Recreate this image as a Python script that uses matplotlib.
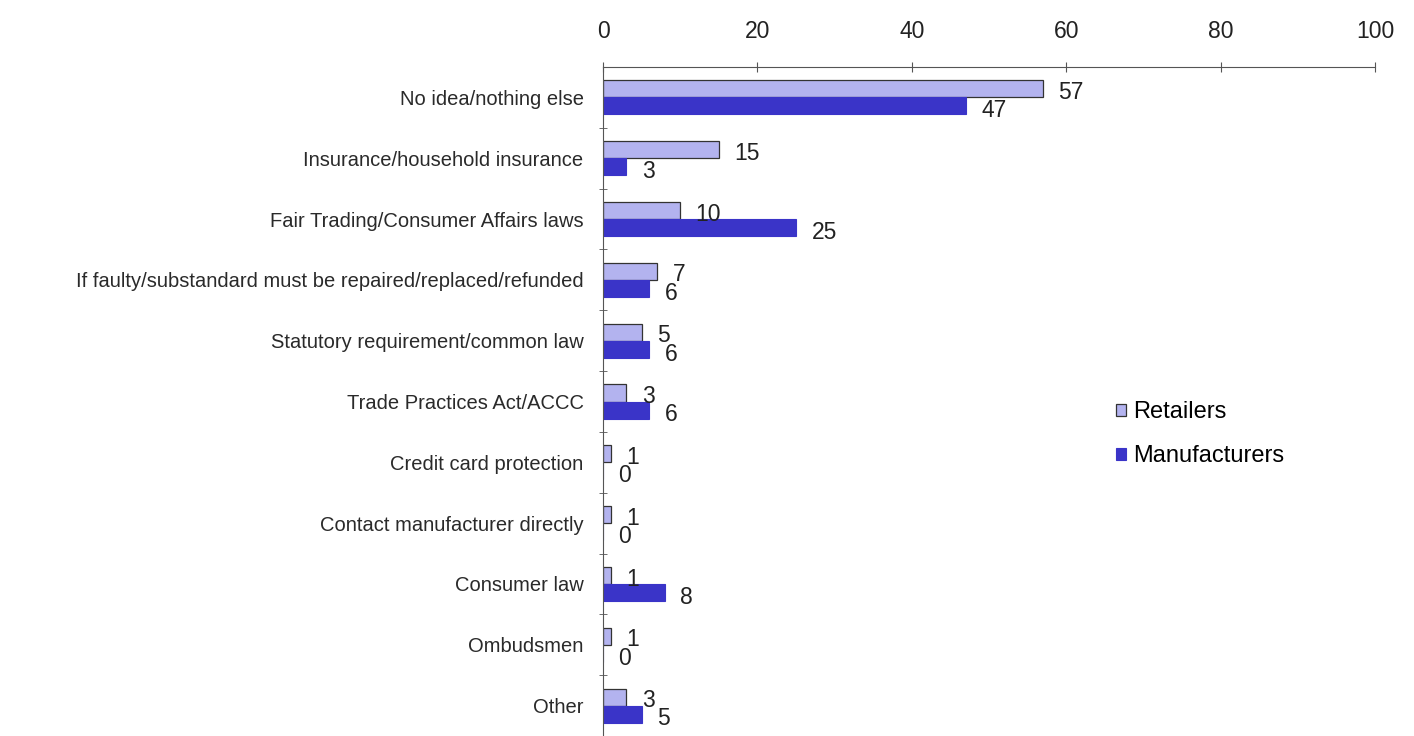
import numpy as np
import matplotlib.pyplot as plt

plt.rcParams['font.family'] = ['Liberation Sans', 'DejaVu Sans']

categories = ['No idea/nothing else', 'Insurance/household insurance',
              'Fair Trading/Consumer Affairs laws',
              'If faulty/substandard must be repaired/replaced/refunded',
              'Statutory requirement/common law', 'Trade Practices Act/ACCC',
              'Credit card protection', 'Contact manufacturer directly',
              'Consumer law', 'Ombudsmen', 'Other']
retailers = [57, 15, 10, 7, 5, 3, 1, 1, 1, 1, 3]
manufacturers = [47, 3, 25, 6, 6, 6, 0, 0, 8, 0, 5]

fig = plt.figure(figsize=(14.14, 7.36), dpi=100)
ax = fig.add_axes([603/1414, 0.0, 772/1414, (736 - 67)/736])

y = np.arange(len(categories))
h = 0.28
ax.barh(y - h/2, retailers, height=h, color='#B3B3EF', edgecolor='#333333',
        linewidth=0.9, label='Retailers')
ax.barh(y + h/2, manufacturers, height=h, color='#3A34C8', edgecolor='#3A34C8',
        linewidth=0.8, label='Manufacturers')

# value labels (offset like the Excel original)
for i in y:
    ax.text(retailers[i] + 2.0, i - 0.08, str(retailers[i]), fontsize=16.5,
            ha='left', va='center', color='#222222')
    ax.text(manufacturers[i] + 2.0, i + 0.22, str(manufacturers[i]), fontsize=16.5,
            ha='left', va='center', color='#222222')

ax.set_xlim(0, 100)
ax.set_ylim(len(categories) - 0.5, -0.5)
ax.set_xticks([0, 20, 40, 60, 80, 100])
ax.xaxis.tick_top()
ax.tick_params(axis='x', direction='inout', length=7, pad=14, labelsize=16.5,
               color='#555555', labelcolor='#222222')
ax.set_yticks(y)
ax.set_yticklabels(categories, fontsize=14.5, color='#2a2a2a')
ax.tick_params(axis='y', length=0, pad=14)
ax.set_yticks(np.arange(len(categories) - 1) + 0.5, minor=True)
ax.tick_params(axis='y', which='minor', direction='inout', length=6, color='#555555')

for s in ['right', 'bottom']:
    ax.spines[s].set_visible(False)
ax.spines['top'].set_color('#555555')
ax.spines['left'].set_color('#555555')

ax.legend(loc='center left', bbox_to_anchor=(1095/1414, 0.41), bbox_transform=fig.transFigure,
          frameon=False, fontsize=17, handlelength=0.4, handleheight=0.4,
          handletextpad=0.3, labelspacing=0.95)

fig.savefig('out.png', dpi=100)
